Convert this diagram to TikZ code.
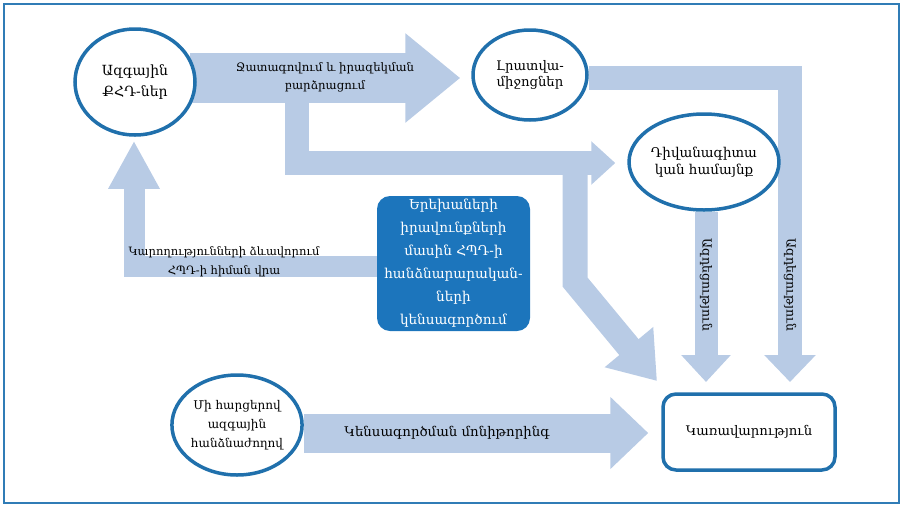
\documentclass[tikz,border=0pt]{standalone}
\usepackage{fontspec}
\setmainfont{DejaVu Serif}
\usetikzlibrary{shapes.geometric,arrows.meta,backgrounds,calc}
\definecolor{arrowblue}{RGB}{184,203,229}
\definecolor{ringblue}{RGB}{32,112,172}
\definecolor{boxblue}{RGB}{28,117,188}
\definecolor{frameblue}{RGB}{48,124,182}
\tikzset{
  circ/.style={ellipse, draw=ringblue, line width=3.5pt, fill=white, inner sep=0pt, align=center},
  blockarrow/.style={draw=arrowblue, line join=miter},
  lbl/.style={align=center, inner sep=0pt},
}
\begin{document}
\begin{tikzpicture}[x=1pt,y=-1pt]
\useasboundingbox (0,0) rectangle (903,507);
\draw[frameblue, line width=2.5pt] (4,4) rectangle (899,503);

% nodes
\node[circ, minimum width=120pt, minimum height=106pt, font=\fontsize{14}{21}\selectfont] (nat) at (135,82) {Ազգային\\ՔՀԴ-ներ};
\node[circ, minimum width=114pt, minimum height=90pt, font=\fontsize{13.2}{16}\selectfont] (media) at (530,75) {Լրատվա-\\միջոցներ};
\node[circ, minimum width=116pt, minimum height=96pt, font=\fontsize{13.5}{17}\selectfont] (dipl) at (704,162) {Դիվանագիտա\\կան համայնք};
\node[circ, minimum width=120pt, minimum height=100pt, font=\fontsize{12}{19}\selectfont] (comm) at (237,425) {Մի հարցերով\\ազգային\\հանձնաժողով};
\node[draw=ringblue, line width=3.5pt, rounded corners=13pt, fill=white, minimum width=172pt, minimum height=76pt, font=\fontsize{13.2}{17}\selectfont] (gov) at (749,432) {Կառավարություն};
\node[fill=boxblue, rounded corners=13pt, minimum width=153pt, minimum height=135pt, text=white, align=center, inner sep=0pt, font=\fontsize{13.6}{23}\selectfont] (ctr) at (453.5,263.5) {Երեխաների\\իրավունքների\\մասին ՀՊԴ-ի\\հանձնարարական-\\ների\\կենսագործում};

% connector end points
\coordinate (aS) at (190,78);
\coordinate (aT) at ($(media.west)+(-11,3)$);
\coordinate (bS) at (297,100);
\coordinate (bK) at (297,163);
\coordinate (bT) at ($(dipl.west)+(-12,1)$);
\coordinate (cS) at (575,163);
\coordinate (cK) at (575,282);
\coordinate (cT) at (657,381);
\coordinate (dK) at (790,78);
\coordinate (dS) at (media.east |- dK);
\coordinate (dT) at (790,382);
\coordinate (eT) at (706,382);
\coordinate (eS) at (eT |- dipl.south);
\coordinate (fK) at (134,266);
\coordinate (fS) at (ctr.west |- fK);
\coordinate (fT) at ($(nat.south)+(-1,4)$);
\coordinate (gT) at ($(gov.west)+(-13,1)$);
\coordinate (gS) at (comm.east |- gT);

\begin{scope}[on background layer]
\draw[blockarrow, line width=50pt, -{Triangle[width=86pt,length=55pt]}] (aS) -- (aT);
\draw[blockarrow, line width=24pt, -{Triangle[width=42pt,length=24pt]}] (bS) -- (bK) -- (bT);
\draw[blockarrow, line width=25pt, -{Triangle[width=60pt,length=44pt]}] (cS) -- (cK) -- (cT);
\draw[blockarrow, line width=24pt, -{Triangle[width=50pt,length=27pt]}] (dS) -- (dK) -- (dT);
\draw[blockarrow, line width=23pt, -{Triangle[width=48pt,length=27pt]}] (eS) -- (eT);
\draw[blockarrow, line width=21pt, -{Triangle[width=48pt,length=48pt]}] (fS) -- (fK) -- (fT);
\draw[blockarrow, line width=39pt, -{Triangle[width=70pt,length=38pt]}] (gS) -- (gT);
\end{scope}

% labels
\node[lbl, font=\fontsize{11.7}{18}\selectfont] (la) at (325,77) {Ջատագովում և իրազեկման\\բարձրացում};
\node[lbl, font=\fontsize{11.5}{19}\selectfont] (lf) at (224,262) {Կարողությունների ձևավորում\\ՀՊԴ-ի հիման վրա};
\node[lbl, rotate=-90, font=\fontsize{12.5}{15}\selectfont] (le) at (706,285) {Ազդեցություն};
\node[lbl, rotate=-90, font=\fontsize{12.5}{15}\selectfont] (ld) at (790,285) {Ազդեցություն};
\node[lbl, font=\fontsize{13.3}{17}\selectfont] (lg) at (447,433) {Կենսագործման մոնիթորինգ};
\end{tikzpicture}
\end{document}
